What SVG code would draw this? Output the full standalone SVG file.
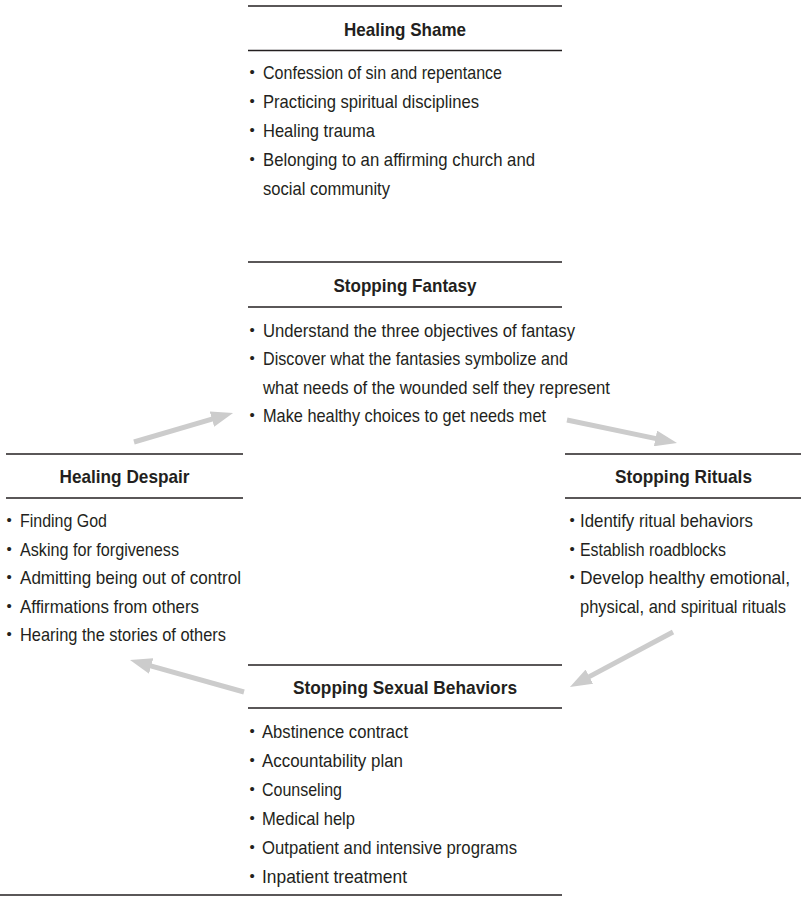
<svg xmlns="http://www.w3.org/2000/svg" width="801" height="898" viewBox="0 0 801 898">
<style>
.bg{fill:#ffffff}
.rule{stroke:#231f20;stroke-width:1.6;fill:none}
.t{font-family:'Liberation Sans Narrow','Liberation Sans',Arial,sans-serif;font-weight:bold;font-size:19px;fill:#231f20;text-anchor:middle}
.b{font-family:'Liberation Sans Narrow','Liberation Sans',Arial,sans-serif;font-size:18.5px;fill:#231f20}
.d{font-family:'Liberation Sans',Arial,sans-serif;font-size:15px;fill:#231f20}
.arrow{stroke:#cccccc;stroke-width:5;fill:none}
</style>
<defs>
<marker id="ah" markerUnits="userSpaceOnUse" viewBox="0 0 22 16" refX="8" refY="8" markerWidth="22" markerHeight="16" orient="auto">
<path d="M0,0 L22,8 L0,16 z" fill="#cccccc"/>
</marker>
</defs>
<rect class="bg" x="0" y="0" width="801" height="898"/>

<g id="healing-shame">
<line class="rule" x1="248" y1="6" x2="562" y2="6"/>
<text class="t" x="405" y="36" textLength="122" lengthAdjust="spacingAndGlyphs">Healing Shame</text>
<line class="rule" x1="248" y1="50.5" x2="562" y2="50.5"/>
<text class="d" x="249.5" y="77">•</text>
<text class="b" x="263" y="79" textLength="239" lengthAdjust="spacingAndGlyphs">Confession of sin and repentance</text>
<text class="d" x="249.5" y="106">•</text>
<text class="b" x="263" y="108" textLength="216" lengthAdjust="spacingAndGlyphs">Practicing spiritual disciplines</text>
<text class="d" x="249.5" y="135">•</text>
<text class="b" x="263" y="137" textLength="112" lengthAdjust="spacingAndGlyphs">Healing trauma</text>
<text class="d" x="249.5" y="164">•</text>
<text class="b" x="263" y="166" textLength="272" lengthAdjust="spacingAndGlyphs">Belonging to an affirming church and</text>
<text class="b" x="263" y="194.5" textLength="127" lengthAdjust="spacingAndGlyphs">social community</text>
</g>

<g id="stopping-fantasy">
<line class="rule" x1="248" y1="262" x2="562" y2="262"/>
<text class="t" x="405" y="292" textLength="143" lengthAdjust="spacingAndGlyphs">Stopping Fantasy</text>
<line class="rule" x1="248" y1="307" x2="562" y2="307"/>
<text class="d" x="249.5" y="334.5">•</text>
<text class="b" x="263" y="336.5" textLength="312" lengthAdjust="spacingAndGlyphs">Understand the three objectives of fantasy</text>
<text class="d" x="249.5" y="363">•</text>
<text class="b" x="263" y="365" textLength="305" lengthAdjust="spacingAndGlyphs">Discover what the fantasies symbolize and</text>
<text class="b" x="263" y="393.5" textLength="347" lengthAdjust="spacingAndGlyphs">what needs of the wounded self they represent</text>
<text class="d" x="249.5" y="420">•</text>
<text class="b" x="263" y="422" textLength="283" lengthAdjust="spacingAndGlyphs">Make healthy choices to get needs met</text>
</g>

<g id="healing-despair">
<line class="rule" x1="6" y1="454" x2="243" y2="454"/>
<text class="t" x="124.5" y="483" textLength="130" lengthAdjust="spacingAndGlyphs">Healing Despair</text>
<line class="rule" x1="6" y1="498" x2="243" y2="498"/>
<text class="d" x="6.5" y="525">•</text>
<text class="b" x="20" y="527" textLength="87" lengthAdjust="spacingAndGlyphs">Finding God</text>
<text class="d" x="6.5" y="553.5">•</text>
<text class="b" x="20" y="555.5" textLength="159" lengthAdjust="spacingAndGlyphs">Asking for forgiveness</text>
<text class="d" x="6.5" y="582">•</text>
<text class="b" x="20" y="584" textLength="221" lengthAdjust="spacingAndGlyphs">Admitting being out of control</text>
<text class="d" x="6.5" y="610.5">•</text>
<text class="b" x="20" y="612.5" textLength="179" lengthAdjust="spacingAndGlyphs">Affirmations from others</text>
<text class="d" x="6.5" y="639">•</text>
<text class="b" x="20" y="641" textLength="206" lengthAdjust="spacingAndGlyphs">Hearing the stories of others</text>
</g>

<g id="stopping-rituals">
<line class="rule" x1="565" y1="454" x2="801" y2="454"/>
<text class="t" x="683.5" y="483" textLength="137" lengthAdjust="spacingAndGlyphs">Stopping Rituals</text>
<line class="rule" x1="565" y1="498" x2="801" y2="498"/>
<text class="d" x="569.5" y="525">•</text>
<text class="b" x="580" y="527" textLength="173" lengthAdjust="spacingAndGlyphs">Identify ritual behaviors</text>
<text class="d" x="569.5" y="553.5">•</text>
<text class="b" x="580" y="555.5" textLength="146" lengthAdjust="spacingAndGlyphs">Establish roadblocks</text>
<text class="d" x="569.5" y="582">•</text>
<text class="b" x="580" y="584" textLength="210" lengthAdjust="spacingAndGlyphs">Develop healthy emotional,</text>
<text class="b" x="580" y="612.5" textLength="206" lengthAdjust="spacingAndGlyphs">physical, and spiritual rituals</text>
</g>

<g id="stopping-sexual-behaviors">
<line class="rule" x1="248" y1="665" x2="562" y2="665"/>
<text class="t" x="405" y="694" textLength="224" lengthAdjust="spacingAndGlyphs">Stopping Sexual Behaviors</text>
<line class="rule" x1="248" y1="708" x2="562" y2="708"/>
<text class="d" x="249.5" y="736">•</text>
<text class="b" x="262" y="738" textLength="146" lengthAdjust="spacingAndGlyphs">Abstinence contract</text>
<text class="d" x="249.5" y="765">•</text>
<text class="b" x="262" y="767" textLength="141" lengthAdjust="spacingAndGlyphs">Accountability plan</text>
<text class="d" x="249.5" y="794">•</text>
<text class="b" x="262" y="796" textLength="80" lengthAdjust="spacingAndGlyphs">Counseling</text>
<text class="d" x="249.5" y="823">•</text>
<text class="b" x="262" y="825" textLength="93" lengthAdjust="spacingAndGlyphs">Medical help</text>
<text class="d" x="249.5" y="852">•</text>
<text class="b" x="262" y="854" textLength="255" lengthAdjust="spacingAndGlyphs">Outpatient and intensive programs</text>
<text class="d" x="249.5" y="881">•</text>
<text class="b" x="262" y="883" textLength="145" lengthAdjust="spacingAndGlyphs">Inpatient treatment</text>
<line class="rule" x1="0" y1="895" x2="562" y2="895"/>
</g>

<g id="connectors">
<line class="arrow" x1="134" y1="442" x2="219.6" y2="416.9" marker-end="url(#ah)"/>
<line class="arrow" x1="567" y1="420" x2="663.3" y2="440.1" marker-end="url(#ah)"/>
<line class="arrow" x1="673" y1="632" x2="582.3" y2="680.4" marker-end="url(#ah)"/>
<line class="arrow" x1="244" y1="692" x2="143.5" y2="663.8" marker-end="url(#ah)"/>
</g>
</svg>
